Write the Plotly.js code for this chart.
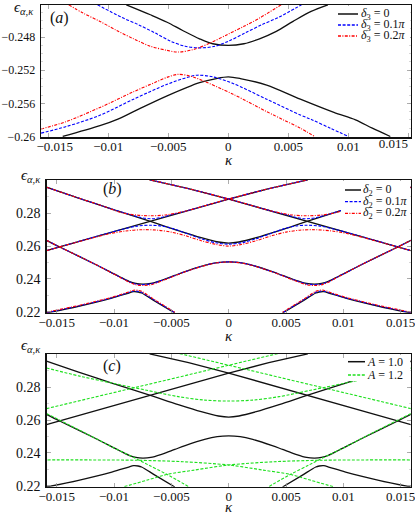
<!DOCTYPE html>
<html><head><meta charset="utf-8">
<script src="https://cdn.plot.ly/plotly-3.0.1.min.js"></script>
<style>html,body{margin:0;padding:0;background:#fff}#chart{width:415px;height:516px}</style>
</head><body><div id="chart"></div>
<script>
// ---------- Panel (a): delta_3 ----------
const kA_blk_up = [-0.0085,-0.0065,-0.0051,-0.0038,-0.0024,-0.0013,0,0.0013,0.0026,0.0040,0.0054,0.0069,0.0083];
const eA_blk_up = [-0.2441,-0.2453,-0.2462,-0.2472,-0.2482,-0.2488,-0.2490,-0.2488,-0.2482,-0.2473,-0.2461,-0.2449,-0.2441];
const kA_blk_lo = [-0.0138,-0.0107,-0.0092,-0.0079,-0.0051,-0.0024,-0.0010,0,0.0010,0.0032,0.0060,0.0088,0.0106,0.0120,0.0135];
const eA_blk_lo = [-0.2600,-0.2587,-0.2579,-0.2570,-0.2551,-0.2535,-0.2530,-0.2528,-0.2530,-0.2538,-0.2555,-0.2571,-0.2580,-0.2590,-0.2600];
const kA_blu_up = [-0.0109,-0.0089,-0.0075,-0.0061,-0.0048,-0.0036,-0.0024,-0.0011,0.0000,0.0014,0.0028,0.0042,0.0061];
const eA_blu_up = [-0.2441,-0.2456,-0.2465,-0.2475,-0.2485,-0.2491,-0.2493,-0.2491,-0.2485,-0.2475,-0.2465,-0.2456,-0.2441];
const kA_blu_lo = [-0.0156,-0.0135,-0.0108,-0.0079,-0.0051,-0.0035,-0.0026,-0.0013,0.0004,0.0032,0.0060,0.0070,0.0085,0.0100];
const eA_blu_lo = [-0.2596,-0.2588,-0.2575,-0.2555,-0.2537,-0.2529,-0.2526,-0.2528,-0.2536,-0.2555,-0.2574,-0.2580,-0.2590,-0.2600];
const kA_red_up = [-0.0133,-0.0121,-0.0107,-0.0093,-0.0079,-0.0065,-0.0051,-0.0042,-0.0029,-0.0015,-0.0001,0.0013,0.0026,0.0044];
const eA_red_up = [-0.2441,-0.2451,-0.2461,-0.2472,-0.2482,-0.2491,-0.2496,-0.2498,-0.2495,-0.2487,-0.2477,-0.2467,-0.2457,-0.2441];
const kA_red_lo = [-0.0156,-0.0135,-0.0107,-0.0079,-0.0060,-0.0050,-0.0042,-0.0032,-0.0024,0.0004,0.0032,0.0046,0.0060,0.0072];
const eA_red_lo = [-0.2591,-0.2582,-0.2565,-0.2546,-0.2534,-0.2528,-0.2525,-0.2527,-0.2531,-0.2549,-0.2570,-0.2580,-0.2590,-0.2600];

// ---------- Panel (b): delta_2 (black also used in (c) as A = 1.0) ----------
const kB_U = [-0.0159,-0.0131,-0.0102,-0.0069,-0.0044,-0.0024,-0.0009,0,0.0009,0.0024,0.0044,0.0069,0.0102,0.0131,0.0159];
const eB_U = [0.2959,0.2893,0.2826,0.2752,0.2694,0.2651,0.2625,0.2618,0.2625,0.2651,0.2694,0.2752,0.2826,0.2893,0.2959];
const kB_L2 = [-0.0159,-0.0069,0,0.0035,0.0069];
const kB_L3 = [0.0159,0.0069,0,-0.0035,-0.0069];
const eB_L = [0.2572,0.2751,0.2887,0.2950,0.3004];
const kB_W = [-0.0159,-0.0147,-0.0117,-0.0096,-0.0087,-0.0081,-0.0075,-0.0068,-0.0058,-0.0047,-0.0038,-0.0021,-0.0010,0,0.0010,0.0021,0.0038,0.0047,0.0058,0.0068,0.0075,0.0081,0.0087,0.0096,0.0117,0.0147,0.0159];
const eB_W = [0.2635,0.2593,0.2491,0.2416,0.2385,0.2372,0.2368,0.2372,0.2393,0.2421,0.2444,0.2482,0.2499,0.2504,0.2499,0.2482,0.2444,0.2421,0.2393,0.2372,0.2368,0.2372,0.2385,0.2416,0.2491,0.2593,0.2635];
const kB_Lo1 = [-0.0159,-0.0131,-0.0102,-0.0088,-0.0083,-0.0079,-0.0076,-0.0064,-0.0047];
const kB_Lo2 = [0.0159,0.0131,0.0102,0.0088,0.0083,0.0079,0.0076,0.0064,0.0047];
const eB_Lo = [0.2192,0.2233,0.2283,0.2312,0.2322,0.2320,0.2314,0.2263,0.2192];

const kB_red_top1 = [-0.0159,-0.0131,-0.0110,-0.0093,-0.0080,-0.0068,-0.0055,-0.0038,-0.0020,0,0.0035,0.0069];
const kB_red_top2 = [0.0159,0.0131,0.0110,0.0093,0.0080,0.0068,0.0055,0.0038,0.0020,0,-0.0035,-0.0069];
const eB_red_top = [0.2959,0.2893,0.2845,0.2803,0.2789,0.2785,0.2790,0.2813,0.2848,0.2887,0.2950,0.3004];
const kB_red_mid = [-0.0159,-0.0125,-0.0105,-0.0090,-0.0075,-0.0062,-0.0050,-0.0038,-0.0024,-0.0011,0,0.0011,0.0024,0.0038,0.0050,0.0062,0.0075,0.0090,0.0105,0.0125,0.0159];
const eB_red_mid = [0.2572,0.2638,0.2674,0.2692,0.2700,0.2697,0.2685,0.2664,0.2633,0.2610,0.2600,0.2610,0.2633,0.2664,0.2685,0.2697,0.2700,0.2692,0.2674,0.2638,0.2572];
const eB_red_W = [0.2635,0.2593,0.2491,0.2414,0.2380,0.2364,0.2360,0.2364,0.2388,0.2419,0.2443,0.2481,0.2498,0.2503,0.2498,0.2481,0.2443,0.2419,0.2388,0.2364,0.2360,0.2364,0.2380,0.2414,0.2491,0.2593,0.2635];
const eB_red_Lo = [0.2197,0.2238,0.2288,0.2319,0.2331,0.2330,0.2324,0.2270,0.2197];

const kB_blu_top1 = [-0.0159,-0.0131,-0.0102,-0.0085,-0.0076,-0.0068,-0.0060,-0.0048,-0.0035,-0.0020,0,0.0035,0.0069];
const kB_blu_top2 = [0.0159,0.0131,0.0102,0.0085,0.0076,0.0068,0.0060,0.0048,0.0035,0.0020,0,-0.0035,-0.0069];
const eB_blu_top = [0.2959,0.2893,0.2826,0.2790,0.2773,0.2767,0.2773,0.2795,0.2818,0.2848,0.2887,0.2950,0.3004];
const kB_blu_mid = [-0.0159,-0.0120,-0.0095,-0.0080,-0.0068,-0.0058,-0.0048,-0.0036,-0.0024,-0.0011,0,0.0011,0.0024,0.0036,0.0048,0.0058,0.0068,0.0080,0.0095,0.0120,0.0159];
const eB_blu_mid = [0.2572,0.2650,0.2698,0.2722,0.2727,0.2722,0.2705,0.2675,0.2645,0.2620,0.2612,0.2620,0.2645,0.2675,0.2705,0.2722,0.2727,0.2722,0.2698,0.2650,0.2572];
const eB_blu_W = [0.2635,0.2593,0.2491,0.2415,0.2383,0.2368,0.2365,0.2369,0.2391,0.2420,0.2444,0.2482,0.2499,0.2504,0.2499,0.2482,0.2444,0.2420,0.2391,0.2369,0.2365,0.2368,0.2383,0.2415,0.2491,0.2593,0.2635];
const eB_blu_Lo = [0.2194,0.2235,0.2285,0.2315,0.2326,0.2324,0.2318,0.2266,0.2194];

// ---------- Panel (c): A = 1.2 ----------
const kC_gU = [-0.0159,-0.0130,-0.0102,-0.0073,-0.0044,-0.0021,0,0.0021,0.0044,0.0073,0.0102,0.0130,0.0159];
const eC_gU = [0.2918,0.2868,0.2826,0.2784,0.2743,0.2722,0.2716,0.2722,0.2743,0.2784,0.2826,0.2868,0.2918];
const kC_gL1 = [-0.0159,0,0.0043];
const kC_gL2 = [0.0159,0,-0.0043];
const eC_gL = [0.2670,0.2935,0.3006];
const kC_gW1 = [-0.0159,-0.0125,-0.0100,-0.0082,-0.0070,-0.0054,-0.0035];
const kC_gW2 = [0.0159,0.0125,0.0100,0.0082,0.0070,0.0054,0.0035];
const eC_gW = [0.2640,0.2520,0.2430,0.2369,0.2326,0.2269,0.2194];
const kC_gR1 = [-0.0091,-0.0072,-0.0054,-0.0030,0,0.0040,0.0080,0.0120,0.0159];
const kC_gR2 = [0.0091,0.0072,0.0054,0.0030,0,-0.0040,-0.0080,-0.0120,-0.0159];
const eC_gR = [0.2194,0.2232,0.2268,0.2295,0.2326,0.2346,0.2355,0.2357,0.2357];

// ---------- tick labels and texts ----------
const xTickValsA = [-0.015,-0.01,-0.005,0,0.005,0.01];
const xTickTextA = ['\u00a0\u00a0\u00a0\u00a0\u22120.015','\u22120.01','\u22120.005','0','0.005','0.01'];
const xTickValsAEnd = [0.015];
const xTickTextAEnd = ['0.015'];
const xTickVals = [-0.015,-0.01,-0.005,0,0.005,0.01,0.015];
const xTickTextBC = ['\u22120.015','\u22120.01','\u22120.005','0','0.005','0.01','0.015'];
const yTickValsA = [-0.26,-0.256,-0.252,-0.248];
const yTickTextA = ['\u22120.26','\u22120.256','\u22120.252','\u22120.248'];
const yTickValsBC = [0.22,0.24,0.26,0.28];
const yTickTextBC = ['0.22','0.24','0.26','0.28'];
const legendA = ['<i>δ</i><sub>3</sub> = 0','<i>δ</i><sub>3</sub> = 0.1<i>π</i>','<i>δ</i><sub>3</sub> = 0.2<i>π</i>'];
const legendB = ['<i>δ</i><sub>2</sub> = 0','<i>δ</i><sub>2</sub> = 0.1<i>π</i>','<i>δ</i><sub>2</sub> = 0.2<i>π</i>'];
const legendC = ['<i>A</i> = 1.0','<i>A</i> = 1.2'];
const xTitle = '<i>κ</i>';
const yTitle = '<i>ϵ</i><sub><i>α</i>,<i>κ</i></sub>';
const panelTags = ['(<i>a</i>)','(<i>b</i>)','(<i>c</i>)'];

// ---------- styles ----------
const FONT = '"Liberation Serif", serif';
const sBlack = {color:'#111111', width:1.3};
const sBlue = {color:'#0000ff', width:1.1, dash:'3px,1.6px'};
const sRed = {color:'#ff0000', width:1.1, dash:'3px,1.4px,1px,1.4px'};
const sGreen = {color:'#1ee01e', width:1.1, dash:'3px,1.6px'};

function tr(k, e, ax, style, name, shape) {
  return {x:k, y:e, xaxis:'x'+ax, yaxis:'y'+ax, type:'scatter', mode:'lines', name:name,
    showlegend:false, hoverinfo:'skip',
    line:Object.assign({shape: shape || 'spline', smoothing:0.9}, style)};
}

const data = [
  tr(kA_blk_up, eA_blk_up, '', sBlack, legendA[0]),
  tr(kA_blk_lo, eA_blk_lo, '', sBlack, legendA[0]),
  tr(kA_blu_up, eA_blu_up, '', sBlue, legendA[1]),
  tr(kA_blu_lo, eA_blu_lo, '', sBlue, legendA[1]),
  tr(kA_red_up, eA_red_up, '', sRed, legendA[2]),
  tr(kA_red_lo, eA_red_lo, '', sRed, legendA[2]),
  tr(kB_U, eB_U, '2', sBlack, legendB[0]),
  tr(kB_L2, eB_L, '2', sBlack, legendB[0], 'linear'),
  tr(kB_L3, eB_L, '2', sBlack, legendB[0], 'linear'),
  tr(kB_W, eB_W, '2', sBlack, legendB[0]),
  tr(kB_Lo1, eB_Lo, '2', sBlack, legendB[0]),
  tr(kB_Lo2, eB_Lo, '2', sBlack, legendB[0]),
  tr(kB_blu_top1, eB_blu_top, '2', sBlue, legendB[1]),
  tr(kB_blu_top2, eB_blu_top, '2', sBlue, legendB[1]),
  tr(kB_blu_mid, eB_blu_mid, '2', sBlue, legendB[1]),
  tr(kB_W, eB_blu_W, '2', sBlue, legendB[1]),
  tr(kB_Lo1, eB_blu_Lo, '2', sBlue, legendB[1]),
  tr(kB_Lo2, eB_blu_Lo, '2', sBlue, legendB[1]),
  tr(kB_red_top1, eB_red_top, '2', sRed, legendB[2]),
  tr(kB_red_top2, eB_red_top, '2', sRed, legendB[2]),
  tr(kB_red_mid, eB_red_mid, '2', sRed, legendB[2]),
  tr(kB_W, eB_red_W, '2', sRed, legendB[2]),
  tr(kB_Lo1, eB_red_Lo, '2', sRed, legendB[2]),
  tr(kB_Lo2, eB_red_Lo, '2', sRed, legendB[2]),
  tr(kB_U, eB_U, '3', sBlack, legendC[0]),
  tr(kB_L2, eB_L, '3', sBlack, legendC[0], 'linear'),
  tr(kB_L3, eB_L, '3', sBlack, legendC[0], 'linear'),
  tr(kB_W, eB_W, '3', sBlack, legendC[0]),
  tr(kB_Lo1, eB_Lo, '3', sBlack, legendC[0]),
  tr(kB_Lo2, eB_Lo, '3', sBlack, legendC[0]),
  tr(kC_gU, eC_gU, '3', sGreen, legendC[1]),
  tr(kC_gL1, eC_gL, '3', sGreen, legendC[1], 'linear'),
  tr(kC_gL2, eC_gL, '3', sGreen, legendC[1], 'linear'),
  tr(kC_gW1, eC_gW, '3', sGreen, legendC[1]),
  tr(kC_gW2, eC_gW, '3', sGreen, legendC[1]),
  tr(kC_gR1, eC_gR, '3', sGreen, legendC[1]),
  tr(kC_gR2, eC_gR, '3', sGreen, legendC[1])
];

const W = 415, H = 516;
const px = v => v / W;
const py = v => 1 - v / H;

function xAxis(dom, rng, vals, ticktext, anchor) {
  return {domain:dom, range:rng, anchor:anchor, tickmode:'array', tickvals:vals, ticktext:ticktext,
    ticks:'inside', ticklen:4, tickwidth:0.8, tickcolor:'#999', showline:true, linecolor:'#111', linewidth:1.4,
    mirror:'ticks', showgrid:false, zeroline:false, ticklabeloverflow:'allow', ticklabelstandoff:-3,
    tickfont:{family:FONT, size:13, color:'#111'}};
}
function yAxis(dom, rng, vals, text, anchor, minorDt, fs) {
  return {domain:dom, range:rng, anchor:anchor, tickmode:'array', tickvals:vals, ticktext:text,
    ticks:'inside', ticklen:4, tickwidth:0.8, tickcolor:'#999', showline:true, linecolor:'#111', linewidth:1.4,
    mirror:'ticks', showgrid:false, zeroline:false, ticklabelstandoff:2, ticklabeloverflow:'allow',
    minor:{ticks:'inside', ticklen:2, tickcolor:'#bbb', tickwidth:0.6, dtick:minorDt, showgrid:false},
    tickfont:{family:FONT, size:fs, color:'#111'}};
}

const domXA = [px(41), px(410.7)];
const domXBC = [px(46.7), px(410.7)];
const rangeXA = [-0.01561, 0.0152];
const layout = {
  width:W, height:H, margin:{l:0,r:0,t:0,b:0}, paper_bgcolor:'#fff', plot_bgcolor:'#fff', showlegend:false,
  font:{family:FONT, color:'#111'},
  xaxis: xAxis(domXA, rangeXA, xTickValsA, xTickTextA, 'y'),
  // last tick label of panel (a) is right-aligned at its tick so it stays inside the figure
  xaxis4: Object.assign(xAxis(domXA, rangeXA, xTickValsAEnd, xTickTextAEnd, 'y'),
    {overlaying:'x', side:'bottom', showline:false, mirror:false, ticklabelposition:'outside left'}),
  yaxis: yAxis([py(137.3), py(5)], [-0.2601, -0.24412], yTickValsA, yTickTextA, 'x', 0.001, 12),
  xaxis2: xAxis(domXBC, [-0.01588, 0.01588], xTickVals, xTickTextBC, 'y2'),
  yaxis2: yAxis([py(312.7), py(180)], [0.21937, 0.30031], yTickValsBC, yTickTextBC, 'x2', 0.01, 14),
  xaxis3: xAxis(domXBC, [-0.01588, 0.01588], xTickVals, xTickTextBC, 'y3'),
  yaxis3: yAxis([py(486.7), py(354)], [0.21937, 0.30031], yTickValsBC, yTickTextBC, 'x3', 0.01, 14),
  shapes: [], annotations: []
};
// an invisible anchor trace so that the overlay axis is drawn
data.push({x:[0.015], y:[-0.25], xaxis:'x4', yaxis:'y', type:'scatter', mode:'markers', showlegend:false,
  hoverinfo:'skip', marker:{size:1, opacity:0}});

function note(x, y, text, size, anchor) {
  layout.annotations.push({xref:'paper', yref:'paper', x:px(x), y:py(y), text:text, showarrow:false,
    xanchor:anchor || 'center', yanchor:'middle', font:{family:FONT, size:size, color:'#111'}});
}
note(59, 18, panelTags[0], 16);
note(112, 189, panelTags[1], 16);
note(112, 366, panelTags[2], 16);
note(24, 8, yTitle, 15);
note(31, 176, yTitle, 15);
note(31, 346, yTitle, 15);
note(228.7, 160, xTitle, 15);
note(228.7, 336, xTitle, 15);
note(228.7, 506.5, xTitle, 15);

function addLegend(box, x0, x1, tx, rows, labels, styles) {
  layout.shapes.push({type:'rect', xref:'paper', yref:'paper', x0:px(box[0]), x1:px(box[1]), y0:py(box[3]), y1:py(box[2]),
    fillcolor:'#fff', line:{width:0}, layer:'above'});
  rows.forEach((r, i) => {
    layout.shapes.push({type:'line', xref:'paper', yref:'paper', x0:px(x0), x1:px(x1), y0:py(r), y1:py(r),
      line:{color:styles[i].color, width:styles[i].width + 0.2, dash:styles[i].dash || 'solid'}, layer:'above'});
    note(tx, r, labels[i], 12, 'left');
  });
}
addLegend([334,410,6,42], 338, 358, 359, [14,25,36], legendA, [sBlack,sBlue,sRed]);
addLegend([341,410,181,219], 345, 361, 361, [190,201.7,213.3], legendB, [sBlack,sBlue,sRed]);
addLegend([345,410,355,381], 348, 365, 365, [361.7,375], legendC, [sBlack,sGreen]);

Plotly.newPlot('chart', data, layout, {staticPlot:true, displayModeBar:false});
</script></body></html>
